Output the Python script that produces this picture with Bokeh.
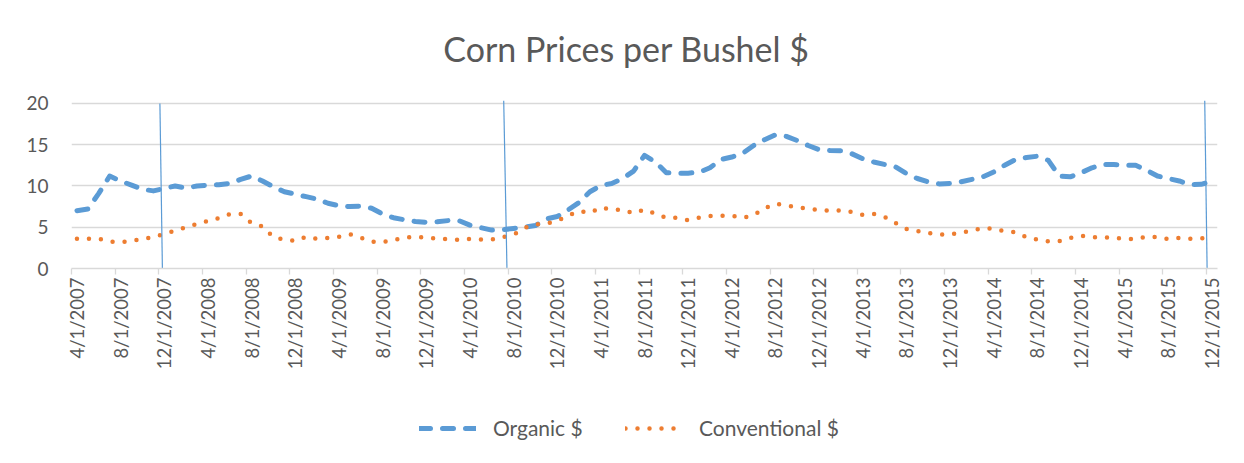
import math
from bokeh.plotting import figure
from bokeh.layouts import column
from bokeh.models import (FixedTicker, Legend, LegendItem, Label, Range1d)
from bokeh.embed import file_html
from bokeh.resources import INLINE

# ---------------- data ----------------
tick_labels = [
    "4/1/2007", "8/1/2007", "12/1/2007",
    "4/1/2008", "8/1/2008", "12/1/2008",
    "4/1/2009", "8/1/2009", "12/1/2009",
    "4/1/2010", "8/1/2010", "12/1/2010",
    "4/1/2011", "8/1/2011", "12/1/2011",
    "4/1/2012", "8/1/2012", "12/1/2012",
    "4/1/2013", "8/1/2013", "12/1/2013",
    "4/1/2014", "8/1/2014", "12/1/2014",
    "4/1/2015", "8/1/2015", "12/1/2015",
]

# monthly values, April 2007 .. December 2015
organic = [
    7.0, 7.2, 9.1, 11.2, 10.6, 10.1, 9.6, 9.4, 9.7, 10.0,
    9.75, 10.0, 10.1, 10.15, 10.3, 10.8, 11.2, 10.6, 9.9, 9.3,
    9.0, 8.7, 8.4, 7.9, 7.6, 7.5, 7.55, 7.3, 6.6, 6.15,
    5.9, 5.7, 5.6, 5.65, 5.8, 5.8, 5.25, 4.95, 4.65, 4.7,
    4.85, 5.0, 5.2, 6.0, 6.3, 7.1, 8.0, 9.3, 10.05, 10.3,
    10.9, 11.8, 13.7, 12.9, 11.6, 11.55, 11.55, 11.65, 12.2, 13.2,
    13.5, 13.95, 14.9, 15.6, 16.2, 16.0, 15.5, 14.9, 14.4, 14.3,
    14.25, 13.9, 13.3, 12.9, 12.6, 12.3, 11.5, 10.9, 10.5, 10.25,
    10.3, 10.5, 10.8, 11.1, 11.7, 12.5, 13.2, 13.45, 13.6, 13.1,
    11.2, 11.1, 11.6, 12.2, 12.6, 12.6, 12.5, 12.5, 11.9, 11.2,
    10.9, 10.6, 10.15, 10.2, 10.55,
]
conventional = [
    3.6, 3.6, 3.6, 3.25, 3.2, 3.35, 3.55, 3.8, 4.2, 4.6,
    5.0, 5.4, 5.75, 6.1, 6.6, 6.6, 5.5, 5.1, 3.8, 3.5,
    3.35, 3.85, 3.6, 3.7, 3.85, 4.15, 3.75, 3.25, 3.2, 3.45,
    3.75, 3.8, 3.75, 3.6, 3.55, 3.45, 3.6, 3.5, 3.5, 3.8,
    4.1, 4.9, 5.35, 5.45, 5.75, 6.4, 6.95, 6.75, 7.4, 7.15,
    7.1, 6.7, 7.15, 6.65, 6.15, 6.15, 5.85, 6.15, 6.35, 6.4,
    6.4, 6.15, 6.45, 7.3, 7.85, 7.65, 7.4, 7.25, 7.1, 7.0,
    7.05, 6.85, 6.5, 6.6, 6.25, 5.5, 4.8, 4.55, 4.3, 4.1,
    4.15, 4.35, 4.6, 4.9, 4.8, 4.5, 4.4, 3.8, 3.5, 3.3,
    3.3, 3.7, 3.95, 3.8, 3.75, 3.75, 3.6, 3.55, 3.85, 3.8,
    3.55, 3.7, 3.6, 3.65, 3.65,
]

# hand-drawn vertical marker lines (month index at top / bottom, value at top / bottom)
marker_x_top = [7.6, 39.1, 103.33]
marker_x_bottom = [7.83, 39.4, 103.55]
marker_y_top = [20.0, 20.35, 20.35]
marker_y_bottom = [-0.2, -0.2, -0.2]

y_ticks = [0, 5, 10, 15, 20]
series_names = ["Organic $", "Conventional $"]
chart_title = "Corn Prices per Bushel $"

# ---------------- styling ----------------
FONT = "Lato"
TEXT = "#595959"
GRID = "#D9D9D9"
BLUE = "#5B9BD5"
ORANGE = "#ED7D31"
W = 1244
BL, BR = 71, 27   # shared left / right borders (frames of the stacked figures align)

organic_style = dict(line_color=BLUE, line_width=5, line_dash="11 12",
                     line_cap="round", line_join="round")
conventional_style = dict(line_color=ORANGE, line_width=4.5, line_dash="0 12",
                          line_cap="round", line_join="round")


def blank_figure(height):
    f = figure(width=W, height=height, output_backend="svg", toolbar_location=None,
               x_axis_type=None, y_axis_type=None, x_range=Range1d(0, 1), y_range=Range1d(0, 1),
               min_border_left=BL, min_border_right=BR, min_border_top=0, min_border_bottom=0)
    f.outline_line_color = None
    f.xgrid.visible = False
    f.ygrid.visible = False
    f.background_fill_color = "white"
    f.border_fill_color = "white"
    return f


# ---------------- title strip ----------------
head = blank_figure(80)
head.add_layout(Label(x=555, y=32, x_units="screen", y_units="screen", text=chart_title,
                      text_align="center", text_baseline="middle",
                      text_font=FONT, text_font_size="34px", text_color=TEXT))

# ---------------- main chart ----------------
months = list(range(len(organic)))
label_pos = [4 * i for i in range(len(tick_labels))]
tick_pos = [4 * i - 0.5 for i in range(len(tick_labels))]

p = figure(width=W, height=320, output_backend="svg", toolbar_location=None,
           x_range=Range1d(-0.5, len(organic) - 0.5), y_range=Range1d(0, 20.35),
           min_border_left=BL, min_border_right=BR, min_border_top=20, min_border_bottom=132)
p.outline_line_color = None
p.background_fill_color = "white"
p.border_fill_color = "white"

xa = p.xaxis[0]
xa.ticker = FixedTicker(ticks=label_pos, minor_ticks=tick_pos)
xa.major_label_overrides = {pos: lab for pos, lab in zip(label_pos, tick_labels)}
xa.major_label_orientation = math.pi / 2
xa.axis_line_color = GRID
xa.axis_line_width = 1.3
xa.major_tick_line_color = None
xa.major_tick_out = 0
xa.major_tick_in = 0
xa.minor_tick_line_color = GRID
xa.minor_tick_line_width = 1.3
xa.minor_tick_out = 6
xa.minor_tick_in = 0
xa.major_label_standoff = 3
xa.major_label_text_font = FONT
xa.major_label_text_font_size = "18.5px"
xa.major_label_text_color = TEXT

ya = p.yaxis[0]
ya.ticker = FixedTicker(ticks=y_ticks)
ya.axis_line_color = None
ya.major_tick_line_color = None
ya.minor_tick_line_color = None
ya.major_tick_out = 0
ya.major_tick_in = 0
ya.major_label_standoff = 23
ya.major_label_text_font = FONT
ya.major_label_text_font_size = "19px"
ya.major_label_text_color = TEXT

p.xgrid.grid_line_color = None
p.ygrid.ticker = FixedTicker(ticks=y_ticks)
p.ygrid.grid_line_color = GRID
p.ygrid.grid_line_width = 1.3

p.line(months, organic, **organic_style)
p.line(months, conventional, **conventional_style)
p.segment(x0=marker_x_top, y0=marker_y_top, x1=marker_x_bottom, y1=marker_y_bottom,
          line_color=BLUE, line_width=1.2)

# ---------------- legend strip ----------------
lf = blank_figure(63)
# one-point proxies (outside this strip's ranges) that carry the series styles for the legend
lr_org = lf.line(months[:1], organic[:1], **organic_style)
lr_con = lf.line(months[:1], conventional[:1], **conventional_style)
for name, rend, lx in [(series_names[0], lr_org, 348), (series_names[1], lr_con, 554)]:
    lg = Legend(items=[LegendItem(label=name, renderers=[rend])], location=(lx, 23),
                orientation="horizontal", glyph_width=57, glyph_height=20, label_standoff=17,
                label_text_font=FONT, label_text_font_size="21px", label_text_color=TEXT,
                border_line_color=None, background_fill_alpha=0, padding=0, margin=0)
    lf.add_layout(lg, "center")

layout = column(head, p, lf, spacing=0)
open("out.html", "w").write(file_html(layout, INLINE))
